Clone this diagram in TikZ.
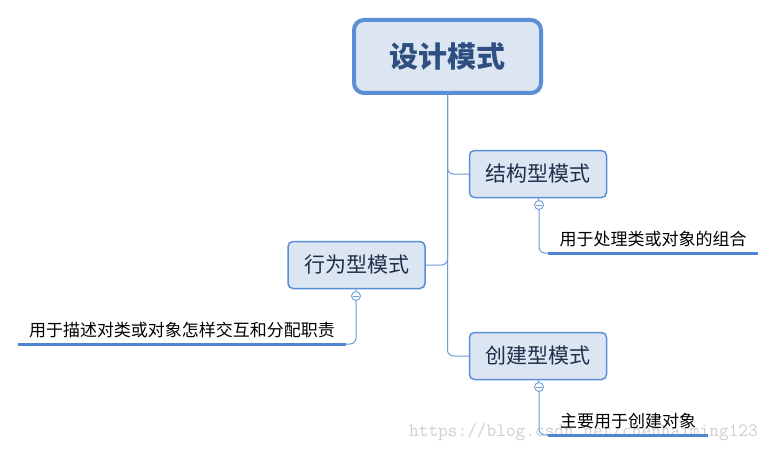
\documentclass[tikz,border=0pt]{standalone}
\usepackage{fontspec}
\newfontfamily\cjk{Noto Sans CJK SC}
\definecolor{boxfill}{HTML}{DCE6F2}
\definecolor{boxline}{HTML}{5A8ED6}
\definecolor{connline}{HTML}{6E9DD9}
\definecolor{uline}{HTML}{4F86CF}
\definecolor{roottext}{HTML}{2F4F80}
\definecolor{subtext}{HTML}{1F2E4A}
\definecolor{wmark}{HTML}{CFCFCF}
\tikzset{
  rootbox/.style={draw=boxline, line width=4pt, fill=boxfill, rounded corners=10pt,
    minimum width=187pt, minimum height=73pt, inner sep=0pt,
    font=\cjk\bfseries\fontsize{29}{32}\selectfont, text=roottext},
  subbox/.style={draw=boxline, line width=1.5pt, fill=boxfill, rounded corners=5pt,
    minimum width=137pt, minimum height=47pt, inner sep=0pt,
    font=\cjk\fontsize{21}{24}\selectfont, text=subtext},
  leaf/.style={anchor=south, inner ysep=6pt, inner xsep=0pt,
    font=\cjk\fontsize{17}{19}\selectfont, text=black},
  conn/.style={draw=connline, line width=1pt, rounded corners=6pt},
  ulinestyle/.style={draw=uline, line width=3pt},
  fold/.style={circle, draw=connline, line width=0.9pt, fill=white, minimum size=9pt, inner sep=0pt},
}
\begin{document}
\begin{tikzpicture}[x=1pt,y=-1pt]
\useasboundingbox[fill=white] (0,0) rectangle (777,452);
% watermark
\node[anchor=west, inner sep=0pt, text=wmark, font=\ttfamily\fontsize{18.8}{20}\selectfont] (wm) at (409,432) {https://blog.csdn.net/chenhaiming123};
% nodes
\node[rootbox] (root) at (447.5,56.5) {设计模式};
\node[subbox] (s1) at (538,174) {结构型模式};
\node[subbox] (s2) at (356.5,265) {行为型模式};
\node[subbox] (s3) at (538,356) {创建型模式};
% connectors from root
\draw[conn] (root.south) |- (s1.west);
\draw[conn] (root.south) |- (s3.west);
\draw[conn] (s2.east) -| (root.south);
% fold circles
\node[fold] (c1) at (539,205) {};
\node[fold] (c2) at (356,296) {};
\node[fold] (c3) at (539,387) {};
\foreach \c in {c1,c2,c3}{
  \draw[draw=connline, line width=0.8pt] ([xshift=2pt]\c.west) -- ([xshift=-2pt]\c.east);
}
\draw[conn] (s1.south) -- (c1.north);
\draw[conn] (s2.south) -- (c2.north);
\draw[conn] (s3.south) -- (c3.north);
% leaves
\node[leaf, minimum width=210pt] (l1) at (653,253) {用于处理类或对象的组合};
\node[leaf, minimum width=328pt] (l2) at (182,344) {用于描述对类或对象怎样交互和分配职责};
\node[leaf, minimum width=160pt] (l3) at (628,435) {主要用于创建对象};
\draw[conn] (c1.south) |- (l1.south west);
\draw[conn] (c2.south) |- (l2.south east);
\draw[conn] (c3.south) |- (l3.south west);
\draw[ulinestyle] (l1.south west) -- (l1.south east);
\draw[ulinestyle] (l2.south west) -- (l2.south east);
\draw[ulinestyle] (l3.south west) -- (l3.south east);
\end{tikzpicture}
\end{document}
